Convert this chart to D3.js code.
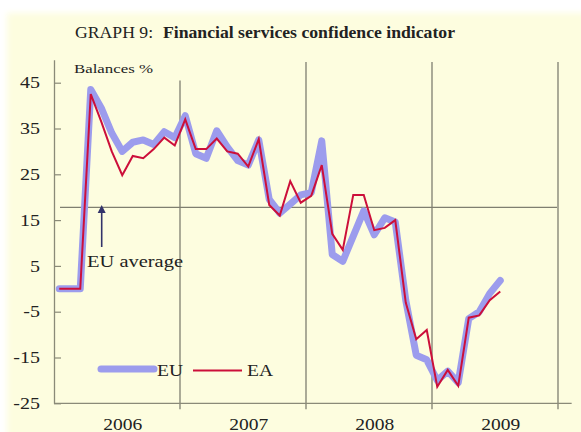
<!DOCTYPE html>
<html>
<head>
<meta charset="utf-8">
<script src="https://cdn.jsdelivr.net/npm/d3@7"></script>
<style>
  html, body { margin: 0; padding: 0; background: #ffffff; }
  svg { display: block; }
  text { font-family: "Liberation Serif", "Times New Roman", "DejaVu Serif", serif; fill: #222; }
</style>
</head>
<body>
<svg id="chart" width="581" height="432"></svg>
<script>
// Monthly balances, Jan 2006 – Jul 2009 (months before April 2006 shown as 0)
const months = d3.range(43);
const euValues = [
  0, 0, 0, 43.5, 39.5, 34, 30, 32, 32.5, 31.5, 34.3, 33,
  37.8, 29.5, 28.5, 34.5, 31, 28, 27, 32.5, 19.5, 16.5, 18.5, 20.5,
  21, 32.3, 7.5, 6, 11.5, 17, 11.8, 15.5, 14.6, -2.5, -14.5, -15.5,
  -20, -18, -20.5, -6.5, -5, -1, 1.8
];
const eaValues = [
  0, 0, 0, 42.5, 36.5, 30, 24.8, 29, 28.5, 30.5, 33, 31.3,
  37, 30.5, 30.5, 32.8, 30, 29.5, 26.7, 32.7, 18.3, 16, 23.5, 18.8,
  20.3, 27, 12, 8.5, 20.5, 20.5, 12.8, 13.3, 15, -3, -11, -9,
  -21.4, -17.7, -21.2, -6.3, -5.8, -2.5, -0.6
];
const euAverage = 17.8;
const yearLabels = ["2006", "2007", "2008", "2009"];
const yTicks = [-25, -15, -5, 5, 15, 25, 35, 45];
const seriesNames = ["EU", "EA"];

const svg = d3.select("#chart");

// soft pale-yellow panel
const defs = svg.append("defs");
defs.append("filter").attr("id", "soft")
  .append("feGaussianBlur").attr("stdDeviation", 3);
svg.append("rect")
  .attr("x", 7).attr("y", 13).attr("width", 600).attr("height", 440)
  .attr("fill", "#fdfddf").attr("filter", "url(#soft)");

// month index scale: each year spans 12 units, points sit mid-month
const x = d3.scaleLinear().domain([0, 48]).range([54, 558]);
const y = d3.scaleLinear().domain([-25, 50]).range([403.3, 59.8]);
const xm = i => x(i + 0.5);

const axisColor = "#8a8a78";

// year separators
[12, 24, 36, 48].forEach(m => {
  svg.append("line")
    .attr("x1", x(m)).attr("x2", x(m))
    .attr("y1", m === 12 ? y(45.5) : y(49.5)).attr("y2", y(-25) + 6)
    .attr("stroke", "#7f7f70").attr("stroke-width", 1.3);
});

// EU average reference line
svg.append("line")
  .attr("x1", 60).attr("x2", 557)
  .attr("y1", y(euAverage)).attr("y2", y(euAverage))
  .attr("stroke", "#7f7f70").attr("stroke-width", 1.3);

// y axis with inward ticks, plain hyphen for negatives
const yAxis = d3.axisLeft(y).tickValues(yTicks).tickFormat(d => String(d))
  .tickSizeInner(-7).tickSizeOuter(0).tickPadding(14);
const gy = svg.append("g").attr("transform", `translate(${x(0)},0)`).call(yAxis);
gy.select(".domain").attr("stroke", axisColor).attr("stroke-width", 1.3);
gy.selectAll(".tick line").attr("stroke", axisColor).attr("stroke-width", 1.2);
gy.selectAll(".tick text")
  .style("font-family", '"Liberation Serif", "Times New Roman", serif')
  .style("font-size", "16px").attr("fill", "#222")
  .each(function () {
    const w = this.getComputedTextLength();
    d3.select(this).attr("textLength", w * 1.25).attr("lengthAdjust", "spacingAndGlyphs");
  });

// x axis: baseline plus year labels at mid-year
const xAxis = d3.axisBottom(x).tickValues([6.5, 18.5, 30.5, 42.5])
  .tickFormat((d, i) => yearLabels[i]).tickSize(0).tickPadding(15);
const gx = svg.append("g").attr("transform", `translate(0,${y(-25)})`).call(xAxis);
gx.select(".domain").attr("d", `M${x(0)},0H${x(49.3)}`)
  .attr("stroke", axisColor).attr("stroke-width", 1.3);
gx.selectAll(".tick text")
  .style("font-family", '"Liberation Serif", "Times New Roman", serif')
  .style("font-size", "16px").attr("fill", "#222")
  .attr("textLength", 39).attr("lengthAdjust", "spacingAndGlyphs");

// series lines
const line = vals => d3.line().x(i => xm(i)).y(i => y(vals[i]))(months);

svg.append("path").attr("d", line(euValues))
  .attr("fill", "none").attr("stroke", "#9c9ced").attr("stroke-width", 7)
  .attr("stroke-linejoin", "round").attr("stroke-linecap", "round");
svg.append("path").attr("d", line(eaValues))
  .attr("fill", "none").attr("stroke", "#cc0f3a").attr("stroke-width", 2)
  .attr("stroke-linejoin", "miter");

// "EU average" annotation with arrow
const ax = 101.7;
svg.append("line")
  .attr("x1", ax).attr("x2", ax).attr("y1", 210).attr("y2", 247)
  .attr("stroke", "#33336a").attr("stroke-width", 1.6);
svg.append("path")
  .attr("d", `M${ax},205L${ax - 4},213L${ax + 4},213Z`)
  .attr("fill", "#33336a");
svg.append("text").attr("x", 87).attr("y", 267)
  .style("font-size", "17px").text("EU average")
  .attr("textLength", 96).attr("lengthAdjust", "spacingAndGlyphs");

// units label
svg.append("text").attr("x", 74).attr("y", 72.5)
  .style("font-size", "13px").text("Balances %")
  .attr("textLength", 79).attr("lengthAdjust", "spacingAndGlyphs");

// title
const title = svg.append("text").attr("x", 75).attr("y", 37.5)
  .style("font-size", "16px")
  .attr("textLength", 380).attr("lengthAdjust", "spacingAndGlyphs");
title.append("tspan").text("GRAPH 9:");
title.append("tspan").attr("dx", 9).attr("font-weight", "bold").text("Financial services confidence indicator");

// legend
const legend = svg.append("g");
legend.append("line").attr("x1", 101).attr("x2", 154).attr("y1", 369).attr("y2", 369)
  .attr("stroke", "#9c9ced").attr("stroke-width", 7).attr("stroke-linecap", "round");
legend.append("text").attr("x", 157).attr("y", 376).style("font-size", "17px")
  .text(seriesNames[0]).attr("textLength", 26).attr("lengthAdjust", "spacingAndGlyphs");
legend.append("line").attr("x1", 193).attr("x2", 242).attr("y1", 370.5).attr("y2", 370.5)
  .attr("stroke", "#cc0f3a").attr("stroke-width", 2);
legend.append("text").attr("x", 247).attr("y", 376).style("font-size", "17px")
  .text(seriesNames[1]).attr("textLength", 26).attr("lengthAdjust", "spacingAndGlyphs");
</script>
</body>
</html>
